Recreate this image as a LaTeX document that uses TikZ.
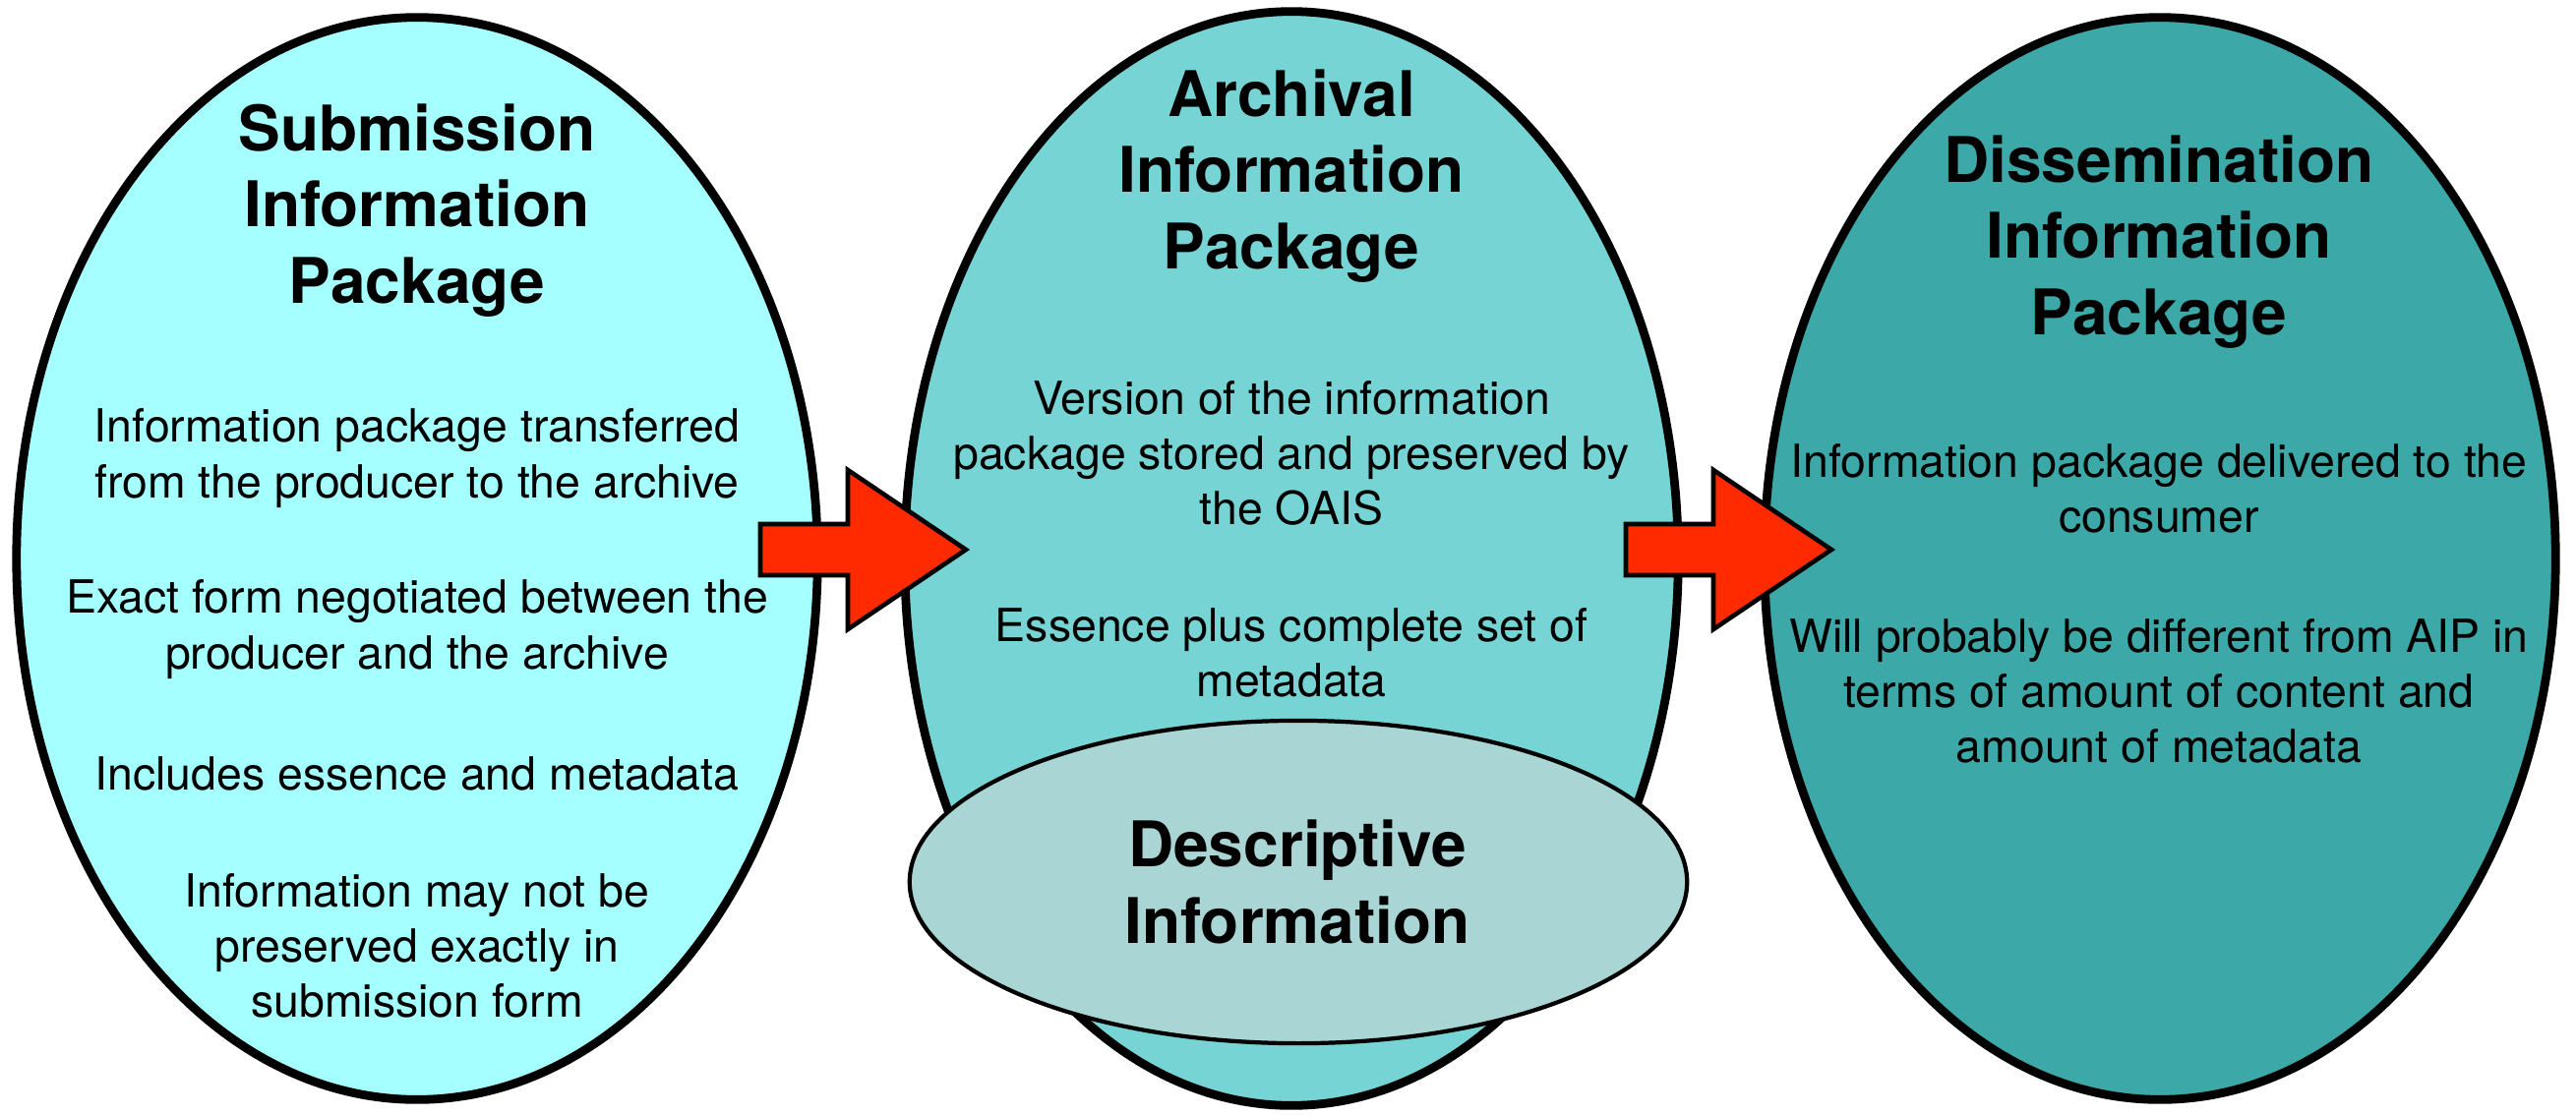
\documentclass[tikz,border=0pt]{standalone}
\usepackage{fontspec}
\setmainfont{TeX Gyre Heros}
\setsansfont{TeX Gyre Heros}
\usetikzlibrary{shapes.geometric}

\definecolor{sipfill}{HTML}{A6FFFF}
\definecolor{aipfill}{HTML}{77D4D4}
\definecolor{dipfill}{HTML}{3DA8A8}
\definecolor{descfill}{HTML}{A9D5D5}
\definecolor{arrowred}{HTML}{FF2A00}

\tikzset{
  pkg/.style={ellipse, draw=black, line width=2.5pt, inner sep=0pt},
  descbox/.style={ellipse, draw=black, line width=1.2pt, inner sep=0pt, fill=descfill},
  heading/.style={align=center, font=\fontsize{18.2}{22}\selectfont\bfseries, inner sep=0pt},
  body/.style={align=center, font=\fontsize{13.2}{16}\selectfont, inner sep=0pt},
  blockarrow/.style={fill=arrowred, draw=black, line width=1.3pt, line join=miter}
}

\newcommand{\blockarrowat}[1]{%
  \draw[blockarrow] (#1) -- ++(0,-26) -- ++(89,0) -- ++(0,-55) -- ++(120,81)
    -- ++(-120,81) -- ++(0,-55) -- ++(-89,0) -- cycle;}

\begin{document}
\begin{tikzpicture}[x=0.01cm, y=-0.01cm]
\useasboundingbox (0,0) rectangle (2619,1133);

% the three package ellipses
\node[pkg, fill=sipfill, minimum width=8.14cm, minimum height=11.00cm] (sip) at (424,568) {};
\node[pkg, fill=aipfill, minimum width=7.86cm, minimum height=11.12cm] (aip) at (1313,568) {};
\node[pkg, fill=dipfill, minimum width=8.04cm, minimum height=11.00cm] (dip) at (2196,568) {};

% descriptive information sits across the bottom of the AIP
\node[descbox, minimum width=7.90cm, minimum height=3.28cm] (desc) at (1320,897) {};

% block arrows between the packages
\coordinate (arrA) at (773,559);
\coordinate (arrB) at (1653,559);
\blockarrowat{arrA}
\blockarrowat{arrB}

% Submission Information Package
\node[heading] (sipT) at (424,214) {Submission\\Information\\Package};
\node[body] (sip1) at (424,466) {Information package transferred\\from the producer to the archive};
\node[body] (sip2) at (424,640) {Exact form negotiated between the\\producer and the archive};
\node[body] (sip3) at (424,787) {Includes essence and metadata};
\node[body] (sip4) at (424,962) {Information may not be\\preserved exactly in\\submission form};

% Archival Information Package
\node[heading] (aipT) at (1313,179) {Archival\\Information\\Package};
\node[body] (aip1) at (1313,461) {Version of the information\\package stored and preserved by\\the OAIS};
\node[body] (aip2) at (1313,664) {Essence plus complete set of\\metadata};
\node[heading] (descT) at (1319,897) {Descriptive\\Information};

% Dissemination Information Package
\node[heading] (dipT) at (2195,246) {Dissemination\\Information\\Package};
\node[body] (dip1) at (2195,497) {Information package delivered to the\\consumer};
\node[body] (dip2) at (2195,703) {Will probably be different from AIP in\\terms of amount of content and\\amount of metadata};
\end{tikzpicture}
\end{document}
